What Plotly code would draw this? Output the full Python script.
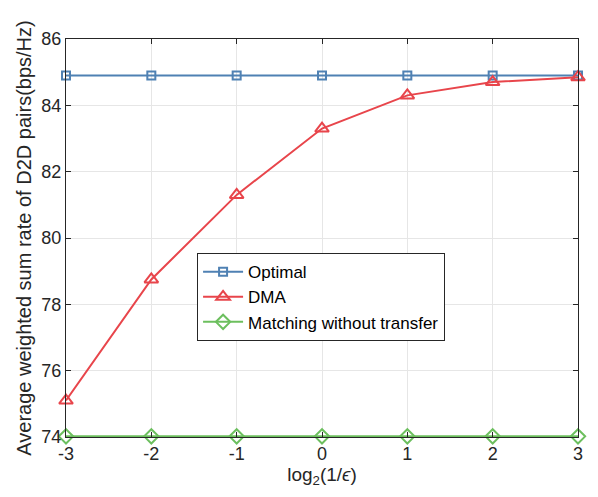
import plotly.graph_objects as go

x_vals = [-3, -2, -1, 0, 1, 2, 3]
optimal = [84.9, 84.9, 84.9, 84.9, 84.9, 84.9, 84.9]
dma = [75.1, 78.75, 81.3, 83.3, 84.3, 84.7, 84.85]
matching = [74.02, 74.02, 74.02, 74.02, 74.02, 74.02, 74.02]

names = ["Optimal", "DMA", "Matching without transfer"]
colors = ["#4f81b3", "#e8454b", "#6cbf5e"]
symbols = ["square-open", "triangle-up-open", "diamond-open"]
sizes = [8, 12, 11]

fig = go.Figure()
for name, ys, c, s, sz in zip(names, [optimal, dma, matching], colors, symbols, sizes):
    fig.add_trace(go.Scatter(
        x=x_vals, y=ys, name=name, mode="lines+markers",
        line=dict(color=c, width=2),
        marker=dict(symbol=s, size=sz, color=c, line=dict(width=2, color=c)),
        cliponaxis=False,
    ))

axis_common = dict(
    showline=True, linecolor="#262626", linewidth=1, mirror="ticks",
    ticks="inside", ticklen=5, tickcolor="#262626",
    showgrid=True, gridcolor="#e6e6e6", gridwidth=1, zeroline=False,
    tickfont=dict(family="Liberation Sans, Arial", size=18, color="#262626"),
)

fig.update_layout(
    width=598, height=497,
    margin=dict(l=66, r=20, t=39, b=60),
    plot_bgcolor="white", paper_bgcolor="white",
    font=dict(family="Liberation Sans, Arial", color="#262626"),
    xaxis=dict(range=[-3, 3], tickvals=x_vals, ticktext=[str(v) for v in x_vals],
               title=dict(text="log<sub>2</sub>(1/<i>ϵ</i>)", font=dict(size=19), standoff=2),
               **axis_common),
    yaxis=dict(range=[74, 86], tickvals=[74, 76, 78, 80, 82, 84, 86],
               title=dict(text="Average weighted sum rate of D2D pairs(bps/Hz)", font=dict(size=20), standoff=4),
               **axis_common),
    legend=dict(x=0.256, y=0.462, xanchor="left", yanchor="top",
                bgcolor="white", bordercolor="#262626", borderwidth=1,
                font=dict(size=17, color="#000000"), tracegroupgap=0,
                itemwidth=40),
    showlegend=True,
)

fig.write_html("out.html")
